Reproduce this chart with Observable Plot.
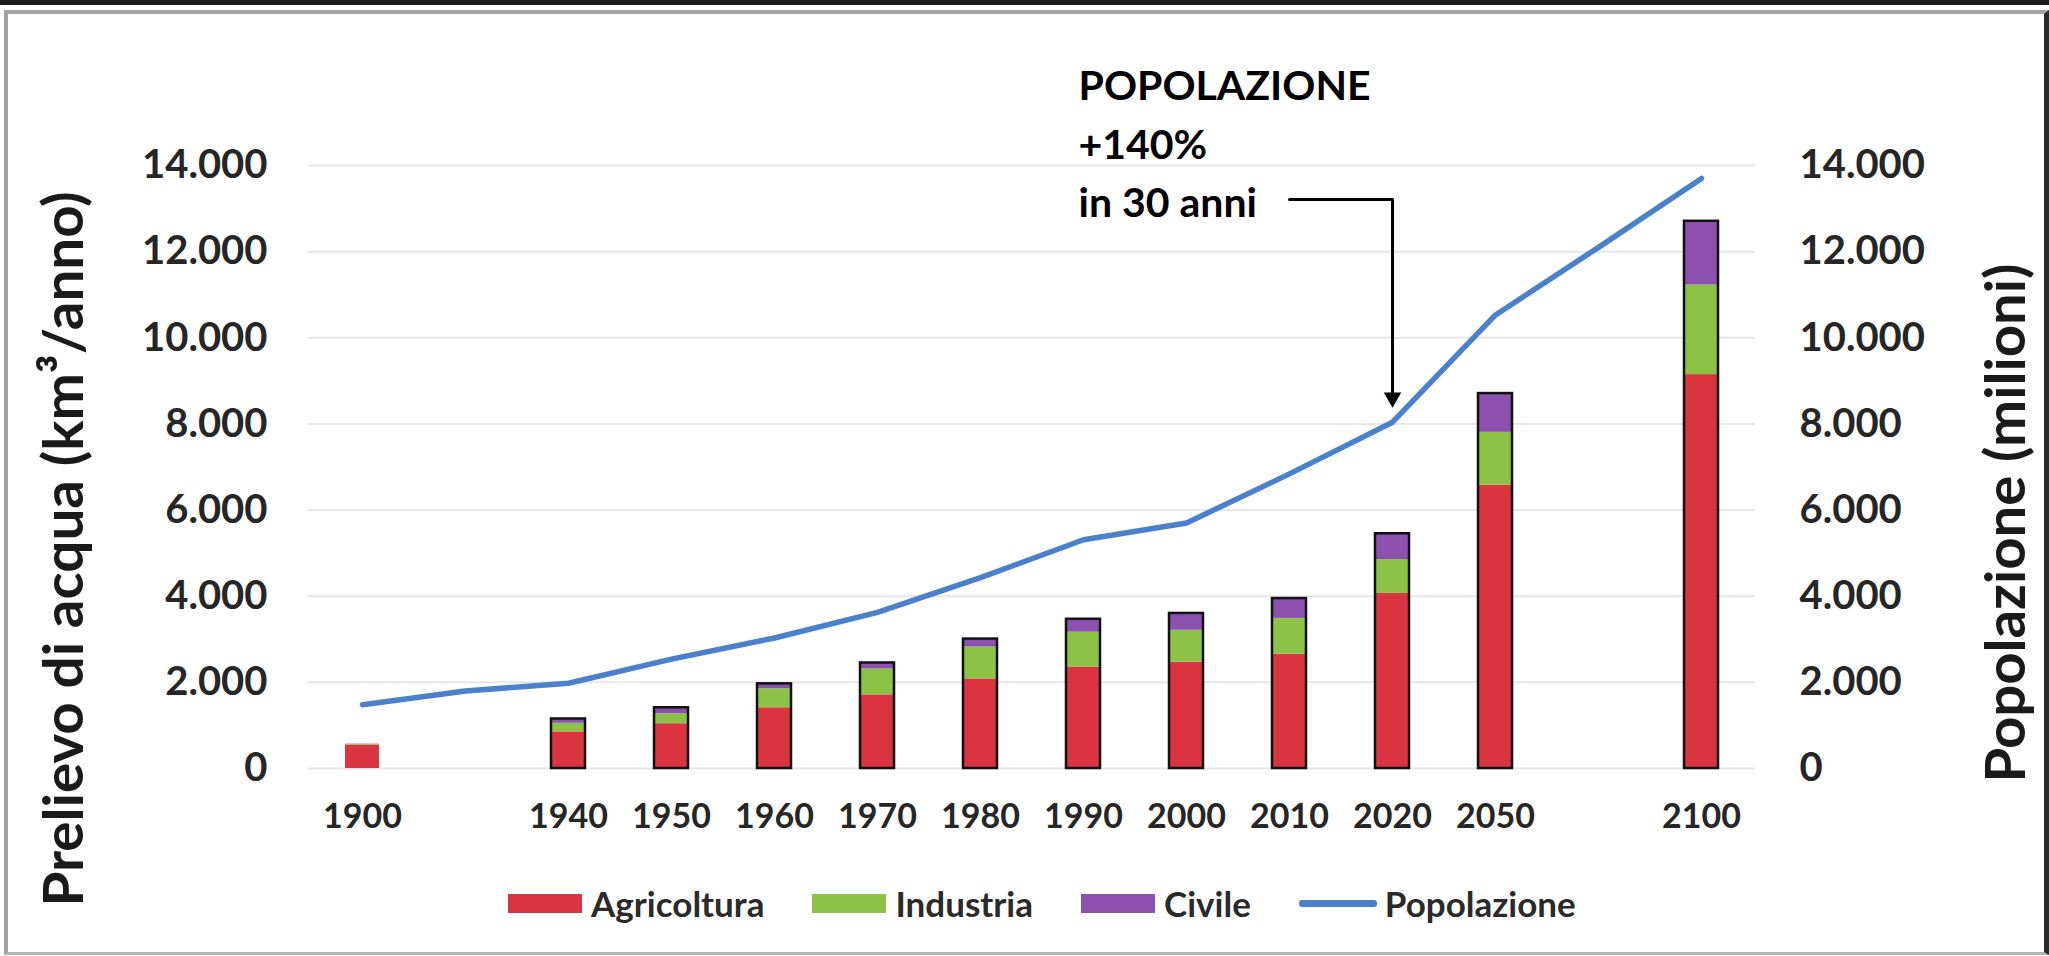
<!DOCTYPE html>
<html>
<head>
<meta charset="utf-8">
<script src="https://cdn.jsdelivr.net/npm/d3@7"></script>
<script src="https://cdn.jsdelivr.net/npm/@observablehq/plot@0.6"></script>
<style>
  html, body { margin: 0; padding: 0; background: #fff; }
  #wrap { position: relative; width: 2049px; height: 956px; overflow: hidden; background: #fff;
          font-family: Lato, "Open Sans", sans-serif; font-weight: 700; }
  #chart { position: absolute; left: 0; top: 0; }
  .frame-top { position: absolute; left: 0; top: 0; width: 2049px; height: 5px; background: #1c1c1c; }
  .frame-box { position: absolute; left: 4px; top: 10px; width: 2036px; height: 938px;
               border-left: 4px solid #a3a3a3; border-top: 4px solid #a3a3a3;
               border-bottom: 3px solid #b5b5b5; border-right: 5px solid #2a2a2a; pointer-events: none; }
  #legend { position: absolute; left: 508px; top: 883px; height: 40px; display: flex; align-items: center;
            color: #2a2a2a; font-size: 35px; white-space: nowrap; }
  #legend .item { display: flex; align-items: center; margin-right: 48px; }
  #legend .sw { display: inline-block; width: 74px; height: 19px; margin-right: 9px; }
  #legend .ln { display: inline-block; width: 78px; height: 7px; margin-right: 8px; border-radius: 3px; }
</style>
</head>
<body>
<div id="wrap">
  <div id="chart"></div>
  <div id="legend"></div>
  <div class="frame-top"></div>
  <div class="frame-box"></div>
</div>
<script>
// ---- Data ----
// Category slots of the x axis (two unlabeled gaps, as in the original)
const slots = ["1900", "1920", "1940", "1950", "1960", "1970", "1980", "1990", "2000", "2010", "2020", "2050", "2075", "2100"];
// Labeled years (bars)
const years = ["1900", "1940", "1950", "1960", "1970", "1980", "1990", "2000", "2010", "2020", "2050", "2100"];
// Water withdrawal by sector (km3/anno)
const agricoltura = [540, 850, 1040, 1410, 1710, 2080, 2355, 2470, 2655, 4065, 6580, 9145];
const industria   = [15, 200, 230, 440, 600, 740, 810, 740, 830, 785, 1225, 2080];
const civile      = [10, 100, 140, 115, 140, 185, 300, 390, 460, 600, 900, 1480];
// Years whose bar has a black outline
const outlinedYears = ["1940", "1950", "1960", "1970", "1980", "1990", "2000", "2010", "2020", "2050", "2100"];
// Population (milioni), one value per slot
const popolazione = [1480, 1800, 1980, 2540, 3030, 3625, 4430, 5310, 5700, 6840, 8040, 10530, 12100, 13700];
// Axis ticks
const yTicks = [0, 2000, 4000, 6000, 8000, 10000, 12000, 14000];
// Series names / colours
const sectors = ["Agricoltura", "Industria", "Civile"];
const sectorColors = ["#d9343f", "#8cc346", "#8c50ae"];
const popLabel = "Popolazione";
const popColor = "#4a80cc";
// Titles and annotation
const leftTitle = "Prelievo di acqua (km³/anno)";
const rightTitle = "Popolazione (milioni)";
const noteText = "POPOLAZIONE\n+140%\nin 30 anni";
const noteYear = "1990";
const arrowFrom = "2010";
const arrowTo = "2020";
const arrowLevel = 13210;
const arrowEnd = 8700;
const arrowTip = 8612;

// ---- Tables built from the arrays ----
const seriesValues = [agricoltura, industria, civile];
const stacked = [];
years.forEach((yr, i) => sectors.forEach((s, k) => stacked.push({year: yr, sector: s, value: seriesValues[k][i]})));
const outlines = outlinedYears.map(yr => {
  const i = years.indexOf(yr);
  return {year: yr, total: agricoltura[i] + industria[i] + civile[i]};
});
const pop = slots.map((yr, i) => ({year: yr, value: popolazione[i]}));
const elbow = [
  {x: arrowFrom, y: arrowLevel},
  {x: arrowTo, y: arrowLevel},
  {x: arrowTo, y: arrowEnd}
];

const fmt = d3.formatLocale({decimal: ",", thousands: ".", grouping: [3], currency: ["", "€"]}).format(",.0f");

const chart = Plot.plot({
  width: 2049,
  height: 860,
  marginLeft: 308,
  marginRight: 294,
  marginTop: 165,
  marginBottom: 92,
  style: {fontFamily: "Lato, 'Open Sans', sans-serif", fontWeight: 700, color: "#262626", background: "transparent", overflow: "visible"},
  x: {type: "band", domain: slots, paddingInner: 0.67, paddingOuter: 0.335, align: 0.5, axis: null},
  y: {domain: [0, 14000], axis: null},
  color: {domain: sectors, range: sectorColors},
  marks: [
    Plot.ruleY(yTicks, {stroke: "#e6e6e6", strokeWidth: 2}),
    Plot.axisY({anchor: "left", ticks: yTicks, tickSize: 0, tickPadding: 41, tickFormat: fmt, fontSize: 40, label: null}),
    Plot.axisY({anchor: "right", ticks: yTicks, tickSize: 0, tickPadding: 44, tickFormat: fmt, fontSize: 40, label: null}),
    Plot.axisX({ticks: years, tickSize: 0, tickPadding: 35, fontSize: 34, label: null}),
    Plot.barY(stacked, {x: "year", y: "value", fill: "sector", inset: 0}),
    Plot.barY(outlines, {x: "year", y: "total", fill: "none", stroke: "#111", strokeWidth: 2.5, inset: 0}),
    Plot.line(pop, {x: "year", y: "value", stroke: popColor, strokeWidth: 5.5, strokeLinejoin: "round", strokeLinecap: "round"}),
    Plot.line(elbow, {x: "x", y: "y", stroke: "#000", strokeWidth: 3}),
    Plot.dot([{x: arrowTo, y: arrowTip}], {x: "x", y: "y", symbol: "triangle", r: 6.5, fill: "#000", rotate: 180}),
    Plot.text([{x: noteYear, t: noteText}], {x: "x", text: "t", frameAnchor: "top", textAnchor: "start", lineAnchor: "top",
      lineHeight: 1.43, fontSize: 41, dx: -5, dy: -107, fill: "#000"}),
    Plot.text([leftTitle], {text: d => d, frameAnchor: "left", textAnchor: "middle", lineAnchor: "middle",
      rotate: -90, dx: -243, dy: 82, fontSize: 56, fill: "#1a1a1a"}),
    Plot.text([rightTitle], {text: d => d, frameAnchor: "right", textAnchor: "middle", lineAnchor: "middle",
      rotate: -90, dx: 252, dy: 56, fontSize: 56, fill: "#1a1a1a"})
  ]
});
// fit the two axis titles to the length they have in the original
d3.select(chart).selectAll("text").each(function () {
  const t = this.textContent;
  if (t === leftTitle) d3.select(this).attr("textLength", 715).attr("lengthAdjust", "spacingAndGlyphs");
  if (t === rightTitle) d3.select(this).attr("textLength", 519).attr("lengthAdjust", "spacingAndGlyphs");
});
document.getElementById("chart").appendChild(chart);

// ---- Legend ----
const legend = document.getElementById("legend");
sectors.forEach((s, k) => {
  const item = document.createElement("div");
  item.className = "item";
  const sw = document.createElement("span");
  sw.className = "sw";
  sw.style.background = sectorColors[k];
  const lab = document.createElement("span");
  lab.textContent = s;
  item.appendChild(sw);
  item.appendChild(lab);
  legend.appendChild(item);
});
{
  const item = document.createElement("div");
  item.className = "item";
  const ln = document.createElement("span");
  ln.className = "ln";
  ln.style.background = popColor;
  const lab = document.createElement("span");
  lab.textContent = popLabel;
  item.appendChild(ln);
  item.appendChild(lab);
  legend.appendChild(item);
}
</script>
</body>
</html>
